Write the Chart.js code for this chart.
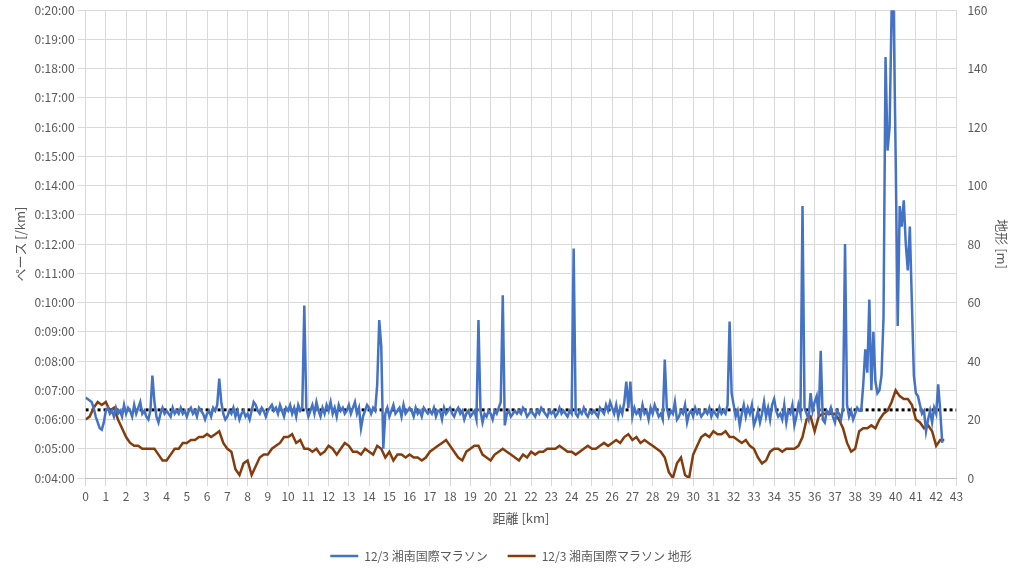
<!DOCTYPE html>
<html><head><meta charset="utf-8">
<script src="https://cdn.jsdelivr.net/npm/chart.js@4.4.0/dist/chart.umd.min.js"></script>
<style>html,body{margin:0;background:#fff}#w{width:1024px;height:580px}</style>
</head><body><div id="w"><canvas id="c"></canvas></div>
<script>
const paceStep = 0.1;
const pace = [
6.75,6.7,6.65,6.6,6.4,6.1,5.9,5.7,5.65,5.9,
6.3,6.4,6.2,6.3,6.1,6.4,6.2,6.3,6.1,6.5,
6.2,6.4,6.3,6.1,6.5,6.2,6.4,6.6,6.2,6.3,
6.1,6.0,6.3,7.5,6.6,6.1,5.9,6.2,6.4,6.2,
6.3,6.2,6.1,6.4,6.2,6.3,6.2,6.4,6.2,6.3,
6.1,6.3,6.4,6.2,6.3,6.1,6.4,6.3,6.2,6.0,
6.2,6.3,6.1,6.4,6.3,6.5,7.4,6.6,6.2,6.0,
6.1,6.3,6.2,6.4,6.1,6.3,6.0,6.2,6.3,6.1,
6.2,6.0,6.3,6.6,6.5,6.3,6.2,6.4,6.3,6.1,
6.3,6.4,6.5,6.3,6.4,6.2,6.5,6.3,6.1,6.4,
6.3,6.5,6.2,6.4,6.1,6.5,6.3,6.4,9.9,6.4,
6.1,6.3,6.5,6.2,6.6,6.3,6.1,6.4,6.2,6.5,
6.3,6.6,6.2,6.4,6.1,6.5,6.3,6.4,6.2,6.3,
6.5,6.2,6.4,6.6,6.2,6.4,5.7,6.1,6.3,6.5,
6.4,6.2,6.4,6.3,7.2,9.4,8.5,5.0,6.2,6.4,
6.1,6.3,6.5,6.2,6.3,6.4,6.1,6.5,6.2,6.3,
6.4,6.3,6.1,6.4,6.2,6.3,6.1,6.4,6.3,6.2,
6.3,6.2,6.4,6.1,6.3,6.3,6.0,6.4,6.2,6.3,
6.4,6.2,6.1,6.3,6.4,6.2,6.3,6.0,6.2,6.3,
6.1,6.2,6.3,6.0,9.4,6.3,5.9,6.2,6.1,6.3,
6.2,6.0,6.3,6.2,6.4,6.6,10.25,5.8,6.2,6.3,
6.1,6.2,6.3,6.2,6.3,6.2,6.4,6.3,6.1,6.2,
6.3,6.2,6.1,6.3,6.2,6.4,6.3,6.2,6.1,6.3,
6.2,6.3,6.1,6.2,6.4,6.2,6.3,6.2,6.1,6.3,
6.2,11.85,6.2,6.1,6.3,6.2,6.4,6.2,6.1,6.3,
6.2,6.3,6.2,6.1,6.4,6.3,6.2,6.5,6.3,6.6,
6.4,6.2,6.5,6.1,6.4,6.2,6.6,7.3,6.4,7.3,
6.1,6.4,6.2,6.3,6.1,6.5,6.2,6.3,6.0,6.4,
6.2,6.5,6.3,6.1,6.2,6.0,8.05,6.4,6.1,6.3,
6.2,6.6,6.0,6.1,6.3,6.2,6.5,5.9,6.2,6.3,
6.1,6.4,6.2,6.3,6.1,6.2,6.3,6.2,6.4,6.1,
6.3,6.2,6.1,6.4,6.2,6.3,6.2,6.5,9.35,6.9,
6.5,6.1,6.3,5.8,6.2,6.5,6.1,6.4,6.2,6.5,
5.8,6.0,6.3,5.9,6.2,6.6,6.1,6.4,6.0,6.5,
6.7,6.3,6.1,6.2,6.0,6.5,5.9,6.3,6.2,6.5,
5.8,6.1,6.5,6.2,13.3,6.4,6.2,6.0,6.9,6.3,
6.6,6.8,6.1,8.35,6.0,5.9,6.3,6.2,6.4,6.1,
5.9,6.3,6.2,6.0,6.4,12.0,6.5,6.1,6.3,6.0,
6.2,6.4,6.3,6.3,7.2,8.4,7.6,10.1,7.0,9.0,
7.3,6.9,7.0,7.5,9.5,18.4,15.2,16.0,20.0,20.0,
15.0,9.2,13.3,12.6,13.5,12.0,11.1,12.6,10.0,7.5,
6.9,6.8,6.5,6.2,6.3,5.6,6.0,6.3,5.9,6.4,
6.2,7.2,6.3,5.2
];
const elevStep = 0.2;
const elev = [
20,21,24,26,25,26,23,24,20,17,
14,12,11,11,10,10,10,10,8,6,
6,8,10,10,12,12,13,13,14,14,
15,14,15,16,12,10,9,3,1,5,
6,1,4,7,8,8,10,11,12,14,
14,15,12,13,10,10,9,10,8,9,
11,10,8,10,12,11,9,9,8,10,
9,8,11,10,7,9,6,8,8,7,
8,7,7,6,7,9,10,11,12,13,
11,9,7,6,9,10,11,11,8,7,
6,8,9,10,9,8,7,6,8,7,
9,8,9,9,10,10,10,11,10,9,
9,8,9,10,11,10,10,11,12,11,
12,13,12,14,15,13,14,12,13,12,
11,10,9,7,2,0,5,7,1,0,
8,11,14,15,14,16,15,15,16,14,
14,13,12,13,11,10,7,5,6,9,
10,10,9,10,10,10,11,14,20,21,
16,21,22,22,22,22,20,17,12,9,
10,16,17,17,18,17,20,22,23,26,
30,28,27,27,25,20,19,17,18,16,
11,13,13
];
const avgPace = 6.33;
const xMax = 43;
const legendNames = ["12/3 湘南国際マラソン", "12/3 湘南国際マラソン 地形"];

const paceData = pace.map((v,i)=>({x:+(i*paceStep).toFixed(2), y:v}));
const elevData = elev.map((v,i)=>({x:+(i*elevStep).toFixed(2), y:v}));
const grey = '#595959';
const font = {family:"'Noto Sans CJK JP','Noto Sans',sans-serif", size:12};
Chart.defaults.font = font;
Chart.defaults.color = grey;
new Chart(document.getElementById('c'), {
  type:'line',
  data:{datasets:[
    {label:legendNames[0], data:paceData, yAxisID:'y', borderColor:'#4472C4', backgroundColor:'#4472C4', borderWidth:2.5, pointRadius:0, tension:0},
    {label:legendNames[1], data:elevData, yAxisID:'y2', borderColor:'#843C0C', backgroundColor:'#843C0C', borderWidth:2.5, pointRadius:0, tension:0},
    {label:'avg', data:[{x:0,y:avgPace},{x:xMax,y:avgPace}], yAxisID:'y', borderColor:'#000', borderWidth:3, borderDash:[3,3], pointRadius:0}
  ]},
  options:{
    responsive:true, maintainAspectRatio:false, animation:false,
    layout:{padding:{left:8,right:10,top:8,bottom:8}},
    plugins:{
      legend:{position:'bottom', labels:{filter:it=>it.text!=='avg', boxWidth:28, boxHeight:0, padding:20, color:grey, font:{...font,size:12}},
        },
      tooltip:{enabled:false}
    },
    scales:{
      x:{type:'linear', min:0, max:xMax, ticks:{stepSize:1, color:grey},
         grid:{color:'#d9d9d9'}, border:{color:'#bfbfbf'},
         title:{display:true, text:'距離 [km]', color:grey, font:{...font,size:13}}},
      y:{type:'linear', position:'left', min:4, max:20, ticks:{stepSize:1, color:grey,
           callback:v=>'0:'+String(Math.floor(v)).padStart(2,'0')+':00'},
         grid:{color:'#d9d9d9'}, border:{display:false},
         title:{display:true, text:'ペース [/km]', color:grey, font:{...font,size:13}}},
      y2:{type:'linear', position:'right', min:0, max:160, ticks:{stepSize:20, color:grey},
         grid:{display:false}, border:{display:false},
         title:{display:true, text:'地形 [m]', color:grey, font:{...font,size:13}}}
    }
  }
});
</script></body></html>
